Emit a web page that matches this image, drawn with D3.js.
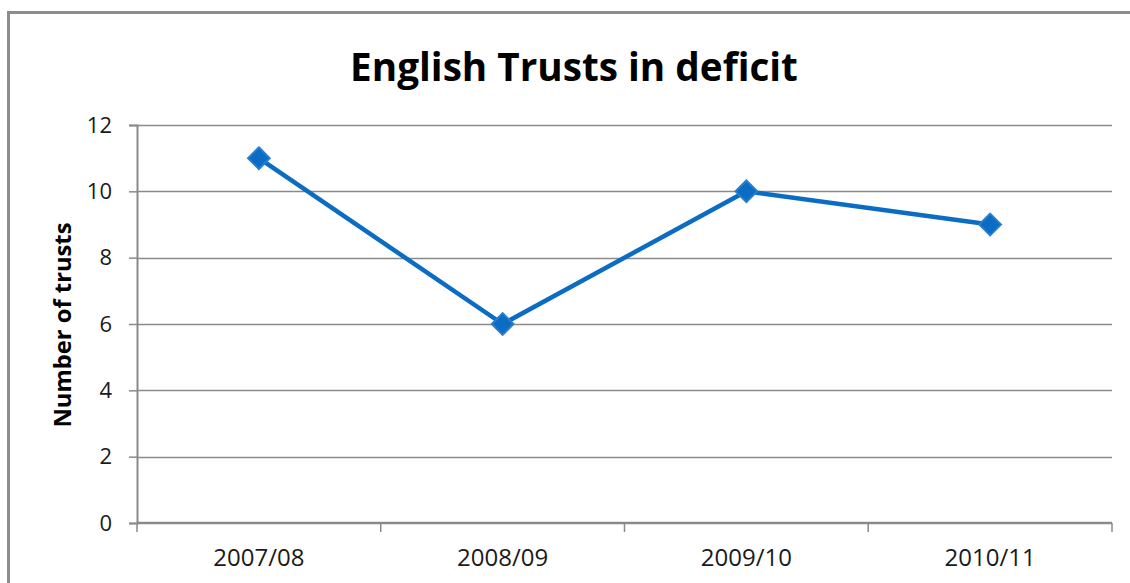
<!DOCTYPE html>
<html>
<head>
<meta charset="utf-8">
<script src="https://cdn.jsdelivr.net/npm/d3@7"></script>
<style>
  html, body { margin: 0; padding: 0; background: #fff; }
  svg { display: block; }
  text { font-family: "Open Sans", "Noto Sans", sans-serif; }
</style>
</head>
<body>
<svg id="chart" width="1130" height="583"></svg>
<script>
// Financial years and the number of English trusts in deficit in each
const years = ["2007/08", "2008/09", "2009/10", "2010/11"];
const trustsInDeficit = [11, 6, 10, 9];
const yTicks = [0, 2, 4, 6, 8, 10, 12];
const chartTitle = "English Trusts in deficit";
const yAxisTitle = "Number of trusts";

const svg = d3.select("#chart");
const plot = { left: 137, right: 1112, top: 125, bottom: 523 };
const gridColor = "#8a8a8a";
const lineColor = "#0a6cc2";

// Outer chart frame (runs off the right and bottom edges)
svg.append("rect")
  .attr("x", 8.5).attr("y", 12.5)
  .attr("width", 1200).attr("height", 700)
  .attr("fill", "none")
  .attr("stroke", "#8c8c8c")
  .attr("stroke-width", 3);

const x = d3.scaleBand().domain(years).range([plot.left, plot.right]).padding(0);
const y = d3.scaleLinear().domain([0, 12]).range([plot.bottom, plot.top]);

// Fit a text element's font size so that it spans a given width
function fitText(sel, width) {
  sel.attr("font-size", 100);
  const w = sel.node().getComputedTextLength();
  sel.attr("font-size", 100 * width / w);
}

// Horizontal gridlines
svg.append("g")
  .selectAll("line")
  .data(yTicks.filter(d => d > 0))
  .join("line")
  .attr("x1", plot.left).attr("x2", plot.right)
  .attr("y1", d => Math.round(y(d)) + 0.5).attr("y2", d => Math.round(y(d)) + 0.5)
  .attr("stroke", gridColor)
  .attr("stroke-width", 1.5);

// Y axis
const yAxis = svg.append("g")
  .attr("transform", `translate(${plot.left},0)`)
  .call(d3.axisLeft(y).tickValues(yTicks).tickSize(8).tickPadding(17).tickFormat(d3.format("d")));
yAxis.select(".domain").attr("stroke", gridColor).attr("stroke-width", 2);
yAxis.selectAll(".tick line").attr("stroke", gridColor).attr("stroke-width", 1.5);
yAxis.selectAll(".tick text")
  .attr("font-family", "'Open Sans', sans-serif")
  .attr("font-size", 22)
  .attr("fill", "#1a1a1a");

// X axis with tick marks on category boundaries
const xAxisG = svg.append("g").attr("transform", `translate(0,${plot.bottom})`);
xAxisG.append("line")
  .attr("x1", plot.left).attr("x2", plot.right)
  .attr("y1", 0).attr("y2", 0)
  .attr("stroke", gridColor).attr("stroke-width", 2.5);
const boundaries = years.map(d => x(d)).concat([x(years[years.length - 1]) + x.bandwidth()]);
xAxisG.selectAll("line.tick")
  .data(boundaries)
  .join("line")
  .attr("class", "tick")
  .attr("x1", d => d).attr("x2", d => d)
  .attr("y1", 0).attr("y2", 9)
  .attr("stroke", gridColor).attr("stroke-width", 1.5);
xAxisG.selectAll("text")
  .data(years)
  .join("text")
  .attr("x", d => x(d) + x.bandwidth() / 2)
  .attr("y", 43)
  .attr("text-anchor", "middle")
  .attr("font-size", 24)
  .attr("fill", "#1a1a1a")
  .text(d => d);

// Data line and diamond markers
const line = d3.line()
  .x((d, i) => x(years[i]) + x.bandwidth() / 2)
  .y(d => y(d));
svg.append("path")
  .datum(trustsInDeficit)
  .attr("d", line)
  .attr("fill", "none")
  .attr("stroke", lineColor)
  .attr("stroke-width", 4.5)
  .attr("stroke-linejoin", "round");

svg.append("g")
  .selectAll("path")
  .data(trustsInDeficit)
  .join("path")
  .attr("transform", (d, i) => `translate(${x(years[i]) + x.bandwidth() / 2},${y(d)})`)
  .attr("d", d3.symbol().type(d3.symbolDiamond2).size(300))
  .attr("fill", lineColor)
  .attr("stroke", "#2a7dcc")
  .attr("stroke-width", 2);

// Chart title
const title = svg.append("text")
  .attr("x", 574).attr("y", 81)
  .attr("text-anchor", "middle")
  .attr("font-weight", "bold")
  .attr("fill", "#000")
  .text(chartTitle);
fitText(title, 448);

// Y axis title
const yTitle = svg.append("text")
  .attr("transform", "translate(71,325) rotate(-90)")
  .attr("text-anchor", "middle")
  .attr("font-weight", "bold")
  .attr("fill", "#000")
  .text(yAxisTitle);
fitText(yTitle, 205);
</script>
</body>
</html>
